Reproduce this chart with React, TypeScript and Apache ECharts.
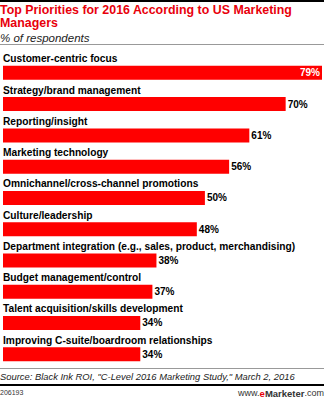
import React, { useEffect, useRef } from "react";
import * as echarts from "echarts";

const categories = [
  "Customer-centric focus",
  "Strategy/brand management",
  "Reporting/insight",
  "Marketing technology",
  "Omnichannel/cross-channel promotions",
  "Culture/leadership",
  "Department integration (e.g., sales, product, merchandising)",
  "Budget management/control",
  "Talent acquisition/skills development",
  "Improving C-suite/boardroom relationships",
];
const values = [79, 70, 61, 56, 50, 48, 38, 37, 34, 34];

const titleText = "Top Priorities for 2016 According to US Marketing\nManagers";
const subtitleText = "% of respondents";
const sourceText = 'Source: Black Ink ROI, "C-Level 2016 Marketing Study," March 2, 2016';
const chartId = "206193";

const FONT = "'Liberation Sans', Arial, sans-serif";

export default function App() {
  const ref = useRef<HTMLDivElement>(null);
  useEffect(() => {
    const chart = echarts.init(ref.current!, null, { renderer: "svg" });
    chart.setOption({
      animation: false,
      textStyle: { fontFamily: FONT },
      title: {
        text: titleText,
        subtext: subtitleText,
        left: 0,
        top: 3,
        padding: 0,
        itemGap: 2,
        textStyle: { color: "#e8000b", fontSize: 12.4, fontWeight: "bold", lineHeight: 13.5, fontFamily: FONT },
        subtextStyle: { color: "#222", fontSize: 11.5, fontStyle: "italic", fontFamily: FONT },
      },
      grid: { left: 0, right: 2, top: 57.2, height: 312.7 },
      xAxis: { type: "value", min: 0, max: 79, show: false },
      yAxis: {
        type: "category",
        data: categories,
        inverse: true,
        axisLine: { show: false },
        axisTick: { show: false },
        splitLine: { show: false },
        axisLabel: {
          inside: true,
          margin: 0,
          align: "left",
          verticalAlign: "bottom",
          padding: [0, 0, 9, 0],
          color: "#000",
          fontWeight: "bold",
          fontSize: 10.2,
          fontFamily: FONT,
        },
      },
      series: [
        {
          type: "bar",
          barWidth: 14,
          itemStyle: { color: "#ff0000" },
          data: values.map((v, i) =>
            i === 0
              ? { value: v, label: { position: "insideRight", color: "#fff", distance: 2 } }
              : v
          ),
          label: {
            show: true,
            position: "right",
            distance: 2,
            formatter: "{c}%",
            color: "#000",
            fontWeight: "bold",
            fontSize: 10,
            fontFamily: FONT,
          },
        },
      ],
      graphic: [
        { type: "rect", shape: { x: 0, y: 0, width: 324, height: 2 }, style: { fill: "#000" } },
        { type: "rect", shape: { x: 0, y: 44, width: 324, height: 1 }, style: { fill: "#999" } },
        { type: "rect", shape: { x: 0, y: 368, width: 324, height: 1 }, style: { fill: "#999" } },
        {
          type: "text",
          x: 0,
          y: 372,
          style: { text: sourceText, fill: "#222", font: `italic 9.4px ${FONT}` },
        },
        { type: "rect", shape: { x: 0, y: 384, width: 324, height: 2 }, style: { fill: "#000" } },
        {
          type: "text",
          x: 0,
          y: 389,
          style: { text: chartId, font: `7px ${FONT}`, fill: "#333" },
        },
        {
          type: "text",
          x: 324,
          y: 388,
          style: {
            text: "{a|www.}{b|e}{c|Marketer}{a|.com}",
            align: "right",
            rich: {
              a: { fontSize: 9, fill: "#333", fontFamily: FONT },
              b: { fontSize: 9.5, fill: "#e8000b", fontWeight: "bold", fontFamily: FONT },
              c: { fontSize: 9.5, fill: "#333", fontWeight: "bold", fontFamily: FONT },
            },
          },
        },
      ],
    });
    return () => chart.dispose();
  }, []);
  return <div ref={ref} style={{ width: 324, height: 397, position: "absolute", left: 0, top: 0 }} />;
}
